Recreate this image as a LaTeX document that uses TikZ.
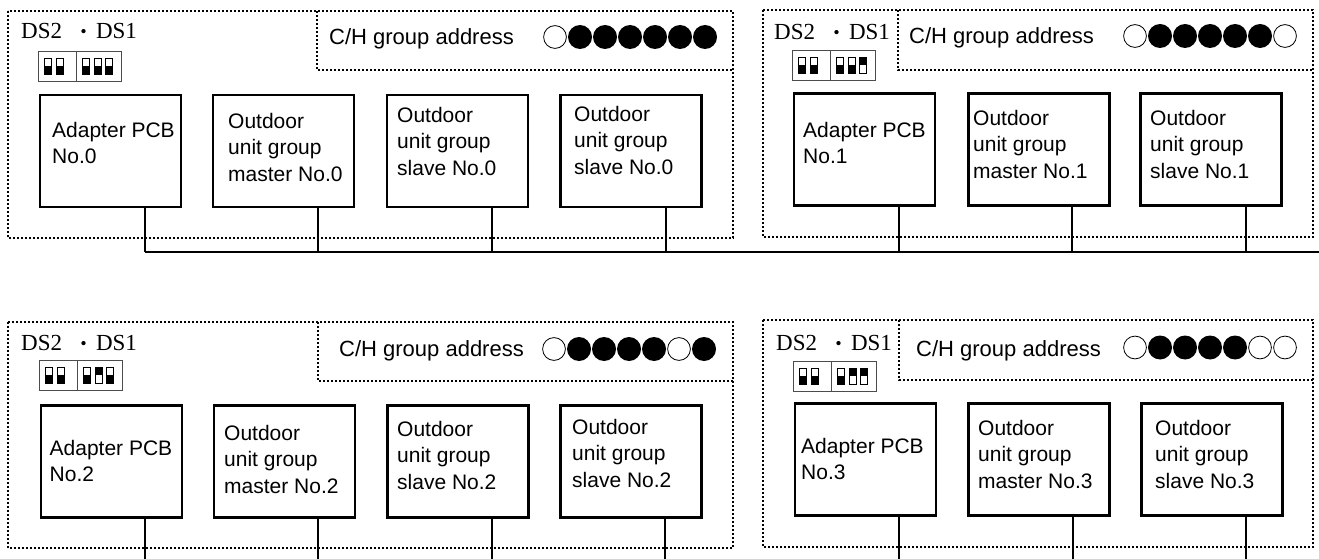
\documentclass[tikz,border=0pt]{standalone}
\usepackage{fontspec}
\setmainfont{Liberation Serif}
\setsansfont{Liberation Sans}
\newcommand\midpt{\hspace{15.5pt}{\fontsize{36}{36}\selectfont\raisebox{-5pt}{·}}\hspace{6.5pt}}
\tikzset{
  grp/.style={line width=1.4pt, dash pattern=on 2pt off 2pt},
  unit/.style={draw, line width=2.8pt, minimum width=141pt, minimum height=112pt, inner sep=0pt},
  utext/.style={anchor=north west, inner sep=0pt, align=left, font=\sffamily\fontsize{21}{26.5}\selectfont},
  dstext/.style={anchor=base west, inner sep=0pt, font=\rmfamily\fontsize{23}{26}\selectfont},
  chtext/.style={anchor=base west, inner sep=0pt, font=\sffamily\fontsize{22}{26}\selectfont},
  wire/.style={line width=1.6pt},
  dipline/.style={line width=0.7pt, draw=black!70},
  swbox/.style={line width=0.6pt},
}
\newcommand\mydip[3]{%
  \begin{scope}[shift={(#1,#2)}]
    \draw[dipline] (0,0) rectangle (83,30);
    \draw[dipline] (38,0) -- (38,30);
    \foreach \sx/\st in {#3} {
      \draw[swbox] (\sx-3.5,7) rectangle (\sx+3.5,23);
      \fill (\sx-3.5,15-8*\st) rectangle (\sx+3.5,23-8*\st);
    }
  \end{scope}}
\newcommand\mydots[3]{%
  \foreach \i/\f in {#3} {
    \ifnum\f=1
      \fill (#1+25*\i,#2) circle (12);
    \else
      \draw[line width=0.8pt] (#1+25*\i,#2) circle (11.4);
    \fi
  }}
\begin{document}
\begin{tikzpicture}[x=1pt,y=-1pt]
\useasboundingbox (0,0) rectangle (1319,559);

% ---------------- group 0 (top left)
\draw[grp] (8,11) rectangle (733,238);
\draw[grp] (317,11) -- (317,70) -- (733,70);
\node[dstext] (ds0) at (21,39) {DS2\midpt DS1};
\mydip{38}{51}{9.5/0,21.5/0,48/0,59.5/0,71/0}
\node[chtext] (ch0) at (329,44.5) {C/H group address};
\mydots{555}{37}{0/0,1/1,2/1,3/1,4/1,5/1,6/1}
\node[unit] (a1) at (110.5,151) {};
\node[unit] (a2) at (283.5,151) {};
\node[unit] (a3) at (457.5,151) {};
\node[unit] (a4) at (631,151) {};
\node[utext] (ta1) at (52,122) {Adapter PCB\\No.0};
\node[utext] (ta2) at (228,113) {Outdoor\\unit group\\master No.0};
\node[utext] (ta3) at (397,107) {Outdoor\\unit group\\slave No.0};
\node[utext] (ta4) at (574,106) {Outdoor\\unit group\\slave No.0};

% ---------------- group 1 (top right)
\draw[grp] (763,10) rectangle (1313,237);
\draw[grp] (898,10) -- (898,70) -- (1313,70);
\node[dstext] (ds1) at (774,39.5) {DS2\midpt DS1};
\mydip{792}{50}{9.5/0,21.5/0,48/0,59.5/0,71/1}
\node[chtext] (ch1) at (909,43.5) {C/H group address};
\mydots{1135}{36}{0/0,1/1,2/1,3/1,4/1,5/1,6/0}
\node[unit] (b1) at (864.5,149.5) {};
\node[unit] (b2) at (1039,149.5) {};
\node[unit] (b3) at (1211,149.5) {};
\node[utext] (tb1) at (803,122) {Adapter PCB\\No.1};
\node[utext] (tb2) at (973,110) {Outdoor\\unit group\\master No.1};
\node[utext] (tb3) at (1150,110) {Outdoor\\unit group\\slave No.1};

% ---------------- bus (top row)
\coordinate (j1) at (145,252);
\coordinate (j2) at (318,252);
\coordinate (j3) at (492,252);
\coordinate (j4) at (666,252);
\coordinate (j5) at (899,252);
\coordinate (j6) at (1072,252);
\coordinate (j7) at (1246,252);
\coordinate (jend) at (1319,252);
\draw[wire] (j1) -- (jend);
\draw[wire] (j1 |- a1.south) -- (j1);
\draw[wire] (j2 |- a2.south) -- (j2);
\draw[wire] (j3 |- a3.south) -- (j3);
\draw[wire] (j4 |- a4.south) -- (j4);
\draw[wire] (j5 |- b1.south) -- (j5);
\draw[wire] (j6 |- b2.south) -- (j6);
\draw[wire] (j7 |- b3.south) -- (j7);

% ---------------- group 2 (bottom left)
\draw[grp] (8,322) rectangle (733,548);
\draw[grp] (318,322) -- (318,381) -- (733,381);
\node[dstext] (ds2) at (21,350) {DS2\midpt DS1};
\mydip{39}{360}{9.5/0,21.5/0,48/0,59.5/1,71/0}
\node[chtext] (ch2) at (339,356.5) {C/H group address};
\mydots{554}{349}{0/0,1/1,2/1,3/1,4/1,5/0,6/1}
\node[unit] (c1) at (111.5,461.5) {};
\node[unit] (c2) at (284.5,461.5) {};
\node[unit] (c3) at (458,461.5) {};
\node[unit] (c4) at (631,461.5) {};
\node[utext] (tc1) at (49.5,440) {Adapter PCB\\No.2};
\node[utext] (tc2) at (224,425) {Outdoor\\unit group\\master No.2};
\node[utext] (tc3) at (397,421) {Outdoor\\unit group\\slave No.2};
\node[utext] (tc4) at (572,419) {Outdoor\\unit group\\slave No.2};

% ---------------- group 3 (bottom right)
\draw[grp] (763,320) rectangle (1313,547);
\draw[grp] (899,320) -- (899,380) -- (1313,380);
\node[dstext] (ds3) at (776,350.5) {DS2\midpt DS1};
\mydip{793}{361}{9.5/0,21.5/0,48/0,59.5/1,71/1}
\node[chtext] (ch3) at (916,356.5) {C/H group address};
\mydots{1135}{347.5}{0/0,1/1,2/1,3/1,4/1,5/0,6/0}
\node[unit] (d1) at (865.5,459.5) {};
\node[unit] (d2) at (1039,459.5) {};
\node[unit] (d3) at (1212,459.5) {};
\node[utext] (td1) at (801,438) {Adapter PCB\\No.3};
\node[utext] (td2) at (978,420) {Outdoor\\unit group\\master No.3};
\node[utext] (td3) at (1155,420) {Outdoor\\unit group\\slave No.3};

% ---------------- drops (bottom row)
\coordinate (e1) at (145,559);
\coordinate (e2) at (318,559);
\coordinate (e3) at (492,559);
\coordinate (e4) at (665,559);
\coordinate (e5) at (899,559);
\coordinate (e6) at (1073,559);
\coordinate (e7) at (1246,559);
\draw[wire] (e1 |- c1.south) -- (e1);
\draw[wire] (e2 |- c2.south) -- (e2);
\draw[wire] (e3 |- c3.south) -- (e3);
\draw[wire] (e4 |- c4.south) -- (e4);
\draw[wire] (e5 |- d1.south) -- (e5);
\draw[wire] (e6 |- d2.south) -- (e6);
\draw[wire] (e7 |- d3.south) -- (e7);
\end{tikzpicture}
\end{document}
